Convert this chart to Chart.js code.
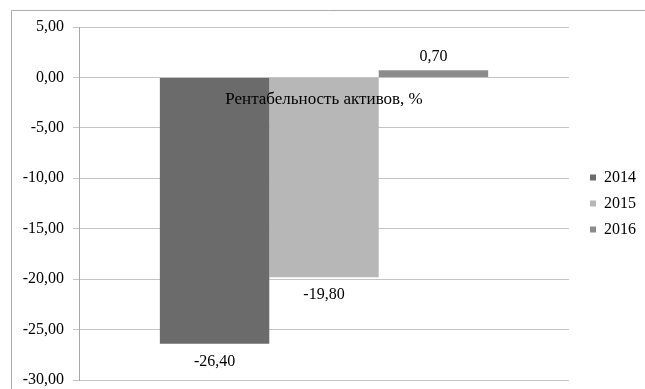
<!DOCTYPE html>
<html>
<head>
<meta charset="utf-8">
<script src="https://cdn.jsdelivr.net/npm/chart.js@4.4.1/dist/chart.umd.min.js"></script>
<style>
html, body { margin: 0; padding: 0; background: #fff; overflow: hidden; }
</style>
</head>
<body>
<canvas id="rentChart" width="645" height="389"></canvas>
<script>
const categories = ['Рентабельность активов, %'];
const seriesNames = ['2014', '2015', '2016'];
const values2014 = [-26.40];
const values2015 = [-19.80];
const values2016 = [0.70];
const seriesColors = ['#6b6b6b', '#b7b7b7', '#8c8c8c'];
const yMin = -30;
const yMax = 5;
const yStep = 5;

const serif = "'Liberation Serif', 'Times New Roman', serif";

function fmt(v) {
    return v.toFixed(2).replace('.', ',');
}

// frame around the whole chart (left and top edges are visible)
const framePlugin = {
    id: 'frame',
    beforeDraw(chart) {
        const ctx = chart.ctx;
        ctx.save();
        ctx.strokeStyle = '#ababab';
        ctx.lineWidth = 1;
        ctx.beginPath();
        ctx.moveTo(11.5, chart.height + 2);
        ctx.lineTo(11.5, 10.5);
        ctx.lineTo(chart.width + 2, 10.5);
        ctx.stroke();
        ctx.restore();
    }
};

// value labels and the category name next to the zero line
const labelsPlugin = {
    id: 'valueLabels',
    afterDatasetsDraw(chart) {
        const ctx = chart.ctx;
        ctx.save();
        ctx.font = '16px ' + serif;
        ctx.fillStyle = '#000';
        ctx.textAlign = 'center';
        ctx.textBaseline = 'middle';
        chart.data.datasets.forEach((ds, i) => {
            const meta = chart.getDatasetMeta(i);
            meta.data.forEach((bar, j) => {
                const v = ds.data[j];
                const y = v >= 0 ? bar.y - 14 : bar.y + 18;
                ctx.fillText(fmt(v), bar.x, y);
            });
        });
        const xs = chart.scales.x;
        const ys = chart.scales.y;
        ctx.font = '17px ' + serif;
        categories.forEach((c, i) => {
            ctx.fillText(c, xs.getPixelForValue(i), ys.getPixelForValue(0) + 22);
        });
        ctx.restore();
    }
};

// push the legend a bit further from the plot, like the original
const legendShift = {
    id: 'legendShift',
    afterLayout(chart) {
        const lg = chart.legend;
        if (!lg) return;
        lg.left = 580;
        lg.right = chart.width;
        lg.width = lg.right - lg.left;
    }
};

new Chart(document.getElementById('rentChart'), {
    type: 'bar',
    data: {
        labels: categories,
        datasets: [
            { label: seriesNames[0], data: values2014, backgroundColor: seriesColors[0] },
            { label: seriesNames[1], data: values2015, backgroundColor: seriesColors[1] },
            { label: seriesNames[2], data: values2016, backgroundColor: seriesColors[2] }
        ]
    },
    options: {
        responsive: false,
        animation: false,
        layout: { padding: { top: 27, bottom: 9, left: 0, right: 10 } },
        datasets: {
            bar: { categoryPercentage: 0.67, barPercentage: 1, borderWidth: 0 }
        },
        scales: {
            x: { display: false },
            y: {
                min: yMin,
                max: yMax,
                ticks: {
                    stepSize: yStep,
                    callback: v => fmt(v),
                    color: '#000',
                    font: { family: serif, size: 16 },
                    padding: 9
                },
                grid: { color: '#c4c4c4', tickLength: 6 },
                border: { color: '#a8a8a8' },
                afterFit(scale) {
                    scale.width = 79;
                    scale.paddingTop = 0;
                    scale.paddingBottom = 0;
                }
            }
        },
        plugins: {
            legend: {
                position: 'right',
                labels: {
                    boxWidth: 6,
                    boxHeight: 6,
                    padding: 10,
                    color: '#000',
                    font: { family: serif, size: 16 }
                }
            },
            tooltip: { enabled: false }
        }
    },
    plugins: [framePlugin, labelsPlugin, legendShift]
});
</script>
</body>
</html>
